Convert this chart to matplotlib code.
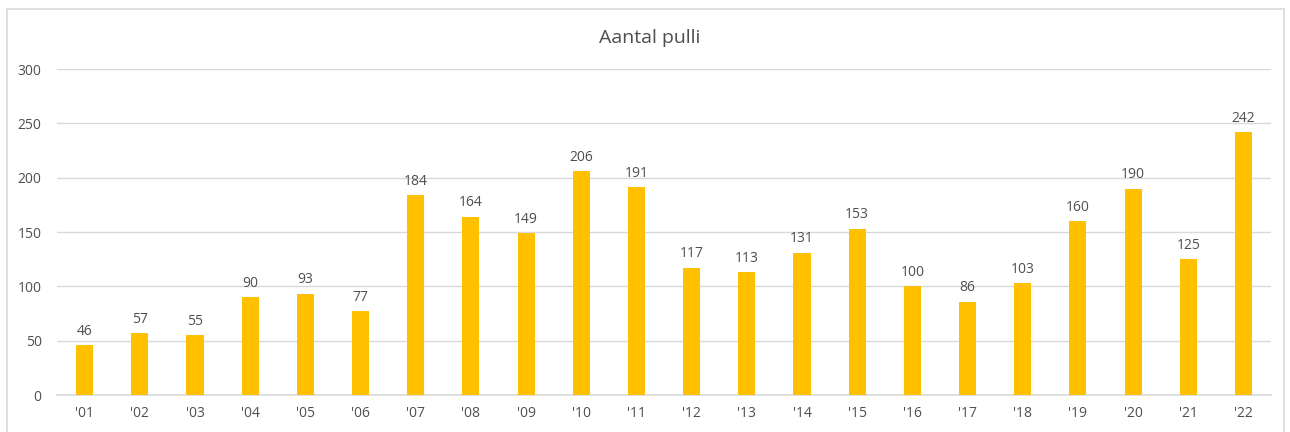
import matplotlib.pyplot as plt
import matplotlib.patches as patches
import numpy as np

# data
years = ["'01", "'02", "'03", "'04", "'05", "'06", "'07", "'08", "'09", "'10", "'11",
         "'12", "'13", "'14", "'15", "'16", "'17", "'18", "'19", "'20", "'21", "'22"]
pulli = [46, 57, 55, 90, 93, 77, 184, 164, 149, 206, 191,
         117, 113, 131, 153, 100, 86, 103, 160, 190, 125, 242]
y_ticks = [0, 50, 100, 150, 200, 250, 300]

text_color = '#4F4F4F'
bar_color = '#FFC000'
grid_color = '#D9D9D9'

plt.rcParams['font.family'] = ['Open Sans', 'DejaVu Sans']

fig = plt.figure(figsize=(12.9, 4.32), dpi=100)
ax = fig.add_axes([0.0442, 0.0856, 0.9411, 0.7546])

# chart border like excel
border = patches.Rectangle((7 / 1290, -0.02), 1277 / 1290, (423 / 432) + 0.02,
                           transform=fig.transFigure, fill=False,
                           edgecolor='#D9D9D9', linewidth=1.2)
fig.patches.append(border)

x = np.arange(len(years))
bars = ax.bar(x, pulli, width=0.31, color=bar_color, zorder=3)

for xi, v in zip(x, pulli):
    ax.text(xi, v + 6, str(v), ha='center', va='bottom', fontsize=10, color=text_color)

ax.set_xlim(-0.5, len(years) - 0.5)
ax.set_ylim(0, 300)
ax.set_yticks(y_ticks)
ax.set_xticks(x)
ax.set_xticklabels(years)
ax.tick_params(axis='both', length=0, labelsize=10, labelcolor=text_color)
ax.tick_params(axis='x', pad=8)
ax.tick_params(axis='y', pad=11)

ax.grid(axis='y', color=grid_color, linewidth=1, zorder=0)
for s in ['top', 'right', 'left']:
    ax.spines[s].set_visible(False)
ax.spines['bottom'].set_color(grid_color)
ax.spines['bottom'].set_linewidth(1.2)

fig.text(0.504, 0.912, 'Aantal pulli', ha='center', va='center', fontsize=14, color=text_color)

fig.savefig('out.png', dpi=100)
